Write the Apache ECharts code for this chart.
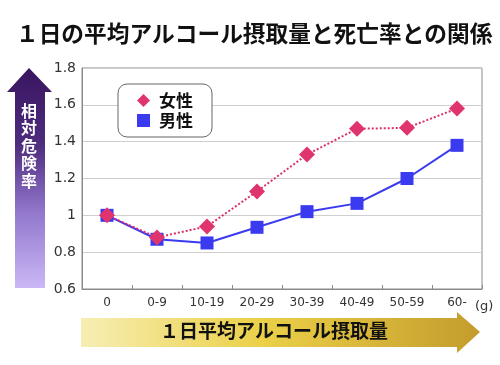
<!DOCTYPE html>
<html><head><meta charset="utf-8">
<script src="https://cdn.jsdelivr.net/npm/echarts@6/dist/echarts.min.js"></script>
<style>html,body{margin:0;padding:0;background:#fff}#c{width:500px;height:365px}</style>
</head><body><div id="c"></div>
<script>
var categories = ['0','0-9','10-19','20-29','30-39','40-49','50-59','60-'];
var female = [1.0, 0.88, 0.94, 1.13, 1.33, 1.47, 1.475, 1.58];
var male = [1.0, 0.87, 0.85, 0.935, 1.02, 1.065, 1.2, 1.38];
var yTicks = {min: 0.6, max: 1.8, interval: 0.2};
var title = '１日の平均アルコール摂取量と死亡率との関係';
var yName = '相対危険率';
var xName = '１日平均アルコール摂取量';
var unit = '(g)';

var jp = '"Noto Sans CJK JP", sans-serif';
var chart = echarts.init(document.getElementById('c'));
chart.setOption({
  animation: false,
  backgroundColor: '#fff',
  title: {text: title, left: 11, top: 17, textStyle: {fontFamily: jp, fontWeight: 'bold', fontSize: 22.7, color: '#111'}},
  grid: {left: 82, right: 18, top: 68, bottom: 76, show: true, borderColor: '#8a8a8a', borderWidth: 1},
  legend: {
    orient: 'vertical', left: 118, top: 84, padding: [8, 19, 8, 19], itemGap: 3,
    itemWidth: 13, itemHeight: 13,
    backgroundColor: '#fff', borderColor: '#666', borderWidth: 1, borderRadius: 9,
    textStyle: {fontFamily: jp, fontWeight: 'bold', fontSize: 17, color: '#111', padding: [0, 0, 0, 4]},
    data: [{name: '女性', icon: 'diamond'}, {name: '男性', icon: 'rect'}]
  },
  xAxis: {
    type: 'category', data: categories, boundaryGap: true,
    axisLine: {lineStyle: {color: '#8a8a8a'}},
    axisTick: {show: true, inside: true, length: 4, lineStyle: {color: '#8a8a8a'}},
    axisLabel: {fontFamily: '"DejaVu Sans", sans-serif', fontSize: 12, color: '#333', margin: 8}
  },
  yAxis: {
    type: 'value', min: yTicks.min, max: yTicks.max, interval: yTicks.interval,
    axisLine: {show: true, lineStyle: {color: '#8a8a8a'}},
    axisTick: {show: false},
    splitLine: {lineStyle: {color: '#cfcfcf'}},
    axisLabel: {fontFamily: '"DejaVu Sans", sans-serif', fontSize: 14, color: '#333', margin: 6,
      formatter: function(v){ return String(Math.round(v*10)/10); }}
  },
  series: [
    {name: '男性', type: 'line', data: male, symbol: 'rect', symbolSize: 13,
     lineStyle: {color: '#3a3af0', width: 2}, itemStyle: {color: '#3a3af0'}, z: 2},
    {name: '女性', type: 'line', data: female, symbol: 'diamond', symbolSize: 16,
     lineStyle: {color: '#d8306a', width: 2, type: 'dotted'}, itemStyle: {color: '#e0346e'}, z: 3}
  ],
  graphic: [
    {type: 'polygon', shape: {points: [[29,68],[52,92],[45,92],[45,288],[15,288],[15,92],[7,92]]},
     style: {fill: new echarts.graphic.LinearGradient(0,0,0,1,[
       {offset:0,color:'#3a1560'},{offset:0.35,color:'#4e2c7e'},{offset:0.65,color:'#9176cc'},{offset:1,color:'#cab8f6'}])}},
    {type: 'text', left: 21, top: 102, style: {text: '相\n対\n危\n険\n率', fill: '#fff', font: 'bold 16px "Noto Sans CJK JP"', lineHeight: 17.5}},
    {type: 'polygon', shape: {points: [[81,318],[457,318],[457,312],[480,332],[457,353],[457,347],[81,347]]},
     style: {fill: new echarts.graphic.LinearGradient(0,0,1,0,[
       {offset:0,color:'#f7eeb4'},{offset:0.45,color:'#ebd048'},{offset:1,color:'#c49c2c'}])}},
    {type: 'text', left: 160, top: 321, style: {text: xName, fill: '#111', font: 'bold 19px "Noto Sans CJK JP"'}},
    {type: 'text', left: 475, top: 300, style: {text: unit, fill: '#333', font: '13px "DejaVu Sans"'}}
  ]
});
</script></body></html>
